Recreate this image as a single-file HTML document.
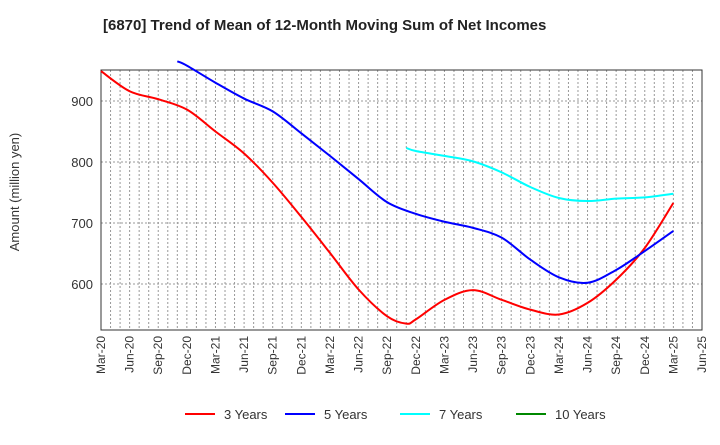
<!DOCTYPE html>
<html><head><meta charset="utf-8"><style>
body{margin:0;background:#fff;font-family:"Liberation Sans",sans-serif}
</style></head><body>
<svg id="chart" width="720" height="440" xmlns="http://www.w3.org/2000/svg" font-family="Liberation Sans, sans-serif">
<text x="103" y="30" font-size="15" font-weight="bold" fill="#222">[6870]  Trend of Mean of 12-Month Moving Sum of Net Incomes</text>
<text transform="translate(19,192) rotate(-90)" text-anchor="middle" font-size="13" fill="#333">Amount (million yen)</text>
<g id="grid"></g><g id="axes"></g><g id="series"></g>
<g>
<line x1="185" y1="414" x2="215" y2="414" stroke="#f00" stroke-width="2"/><text x="224" y="419" font-size="13" fill="#333">3 Years</text>
<line x1="285" y1="414" x2="315" y2="414" stroke="#00f" stroke-width="2"/><text x="324" y="419" font-size="13" fill="#333">5 Years</text>
<line x1="400" y1="414" x2="430" y2="414" stroke="#0ff" stroke-width="2"/><text x="439" y="419" font-size="13" fill="#333">7 Years</text>
<line x1="516" y1="414" x2="546" y2="414" stroke="#080" stroke-width="2"/><text x="555" y="419" font-size="13" fill="#333">10 Years</text>
</g>
</svg>
<script>
const xLabels=["Mar-20","Jun-20","Sep-20","Dec-20","Mar-21","Jun-21","Sep-21","Dec-21","Mar-22","Jun-22","Sep-22","Dec-22","Mar-23","Jun-23","Sep-23","Dec-23","Mar-24","Jun-24","Sep-24","Dec-24","Mar-25","Jun-25"];
const yTicks=[600,700,800,900];
const m3=[0,3,6,9,12,15,18,21,24,27,30,32,33,36,39,42,45,48,51,54,57,60];
const v3=[949,916,903,886,850,814,766,710,651,591,547,535,542,574,590,574,558,550,569,607,659,733];
const m5=[8,9,12,15,18,21,24,27,30,33,36,39,42,45,48,51,54,57,60];
const v5=[965,958,930,904,883,847,810,772,734,715,702,692,676,640,611,602,623,654,687];
const m7=[32,33,36,39,42,45,48,51,54,57,60];
const v7=[823,818,810,801,783,759,741,736,740,742,748];
const L=101,R=702,T=70,B=330;
const x=m=>L+(R-L)*m/63;
const y=v=>284-(v-600)*0.61;
const NS="http://www.w3.org/2000/svg";
function mk(tag,attrs,parent){const e=document.createElementNS(NS,tag);for(const k in attrs)e.setAttribute(k,attrs[k]);parent.appendChild(e);return e;}
const grid=document.getElementById('grid'),axes=document.getElementById('axes'),ser=document.getElementById('series');
for(let m=1;m<63;m++){const g=mk('line',{x1:x(m),x2:x(m),y1:T,y2:B,stroke:'#999','stroke-dasharray':'2,2','stroke-width':1},grid);

}
yTicks.forEach(v=>{const g=mk('line',{x1:L,x2:R,y1:y(v),y2:y(v),stroke:'#999','stroke-dasharray':'2,2'},grid);


const t=mk('text',{x:L-8,y:y(v)+5,'text-anchor':'end','font-size':13,fill:'#333'},axes);t.textContent=v;

});
xLabels.forEach((s,i)=>{const t=mk('text',{transform:`translate(${x(i*3)+4},${B+6}) rotate(-90)`,'text-anchor':'end','font-size':12,fill:'#333'},axes);t.textContent=s;

});
const fr=mk('rect',{x:L,y:T,width:R-L,height:B-T,fill:'none',stroke:'#333','stroke-width':1},axes);


function path(ms,vs){const p=ms.map((m,i)=>[x(m),y(vs[i])]);let d=`M${p[0][0]},${p[0][1]}`;
for(let i=0;i<p.length-1;i++){const p0=p[i-1]||p[i],p1=p[i],p2=p[i+1],p3=p[i+2]||p2;
d+=` C${p1[0]+(p2[0]-p0[0])/6},${p1[1]+(p2[1]-p0[1])/6} ${p2[0]-(p3[0]-p1[0])/6},${p2[1]-(p3[1]-p1[1])/6} ${p2[0]},${p2[1]}`;}return d;}
[[m3,v3,'#f00','line-3-years'],[m5,v5,'#00f','line-5-years'],[m7,v7,'#0ff','line-7-years']].forEach(([ms,vs,c,n])=>{
const e=mk('path',{d:path(ms,vs),fill:'none',stroke:c,'stroke-width':2},ser);

});
</script>
</body></html>
